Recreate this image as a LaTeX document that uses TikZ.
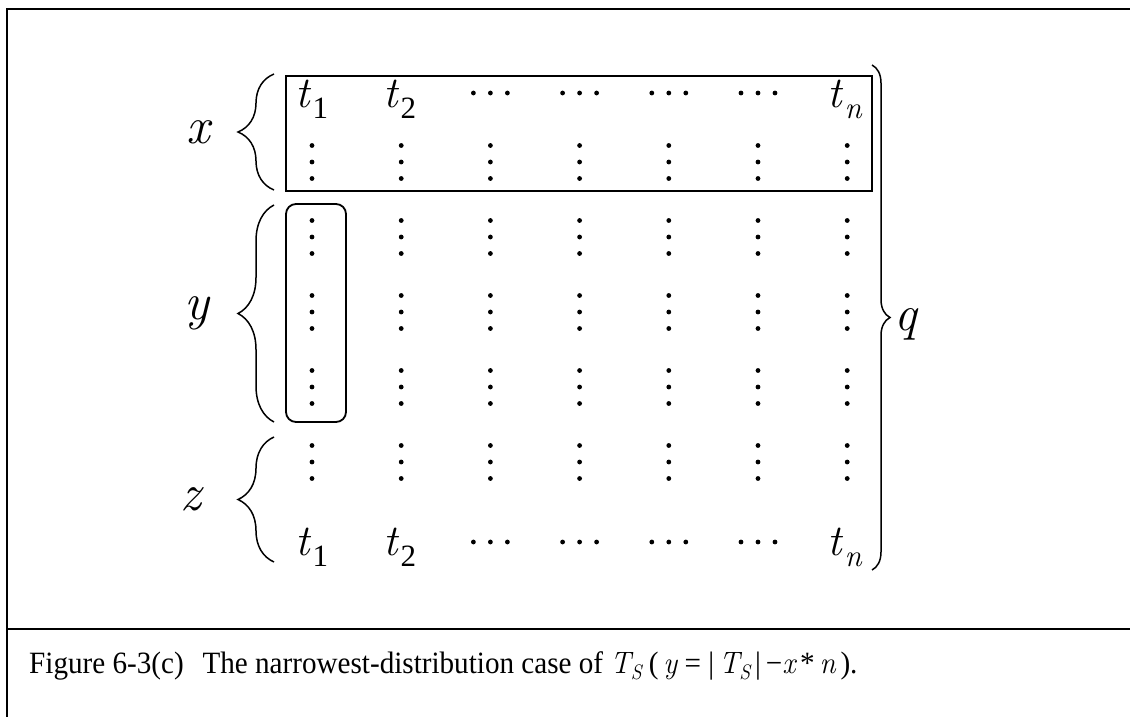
\documentclass[tikz,border=0pt]{standalone}
\usepackage{fontspec}
\setmainfont{Liberation Serif}
\newfontfamily\lmfam{Latin Modern Roman}
\usetikzlibrary{decorations.pathreplacing}
\newcommand{\iv}[1]{{\lmfam\itshape #1}}
\newcommand{\tsym}[1]{\iv{t}\kern3pt\raisebox{-11pt}{\fontsize{31}{31}\selectfont #1}}
\newcommand{\subS}{\raisebox{-6pt}{\fontsize{21}{21}\selectfont\iv{S}}}

\begin{document}
\begin{tikzpicture}[x=1pt,y=-1pt,
  lbl/.style={inner sep=0pt,font=\fontsize{52}{52}\selectfont\lmfam\itshape},
  tlbl/.style={inner sep=0pt,anchor=base west,font=\fontsize{44}{44}\selectfont},
  frame/.style={line width=2pt},
  grp/.style={line width=1.8pt},
  brc/.style={decorate,decoration={brace,amplitude=#1},line width=1.5pt}]
\useasboundingbox (0,0) rectangle (1130,717);
% frame and caption
\draw[frame] (1130,9) -- (7,9) -- (7,717);
\draw[frame] (7,629) -- (1130,629);
\node[anchor=base west,inner sep=0pt,font=\fontsize{31}{31}\selectfont] (cap) at (29,673)
  {\scalebox{0.94}[1]{Figure 6-3(c)\hspace{20pt}The narrowest-distribution case of \iv{T}\subS{} (\,\iv{y} = |\,\iv{T}\subS\,|\,−\iv{x}\,*\,\iv{n}\,).}};
% t rows
\node[tlbl] (ta1) at (295,107) {\tsym{1}};
\node[tlbl] (ta2) at (383,107) {\tsym{2}};
\node[tlbl] (tan) at (827,107) {\tsym{\iv{n}}};
\node[tlbl] (tb1) at (295,555) {\tsym{1}};
\node[tlbl] (tb2) at (383,555) {\tsym{2}};
\node[tlbl] (tbn) at (827,555) {\tsym{\iv{n}}};
% dots
\foreach \c in {0,...,6}
  \foreach \r in {162,237,312,387,462}
    \foreach \d in {-16.5,0,16.5}
      \fill (312+89.2*\c,\r+\d) circle (2.4pt);
\foreach \c in {2,...,5}
  \foreach \r in {93,542}
    \foreach \d in {-17,0,17}
      \fill (312+89.2*\c+\d,\r) circle (2.4pt);
% groups
\draw[grp] (286,76) rectangle (872,191);
\draw[grp,rounded corners=10pt] (286,204) rectangle (346,422);
% braces and labels
\draw[brc=36pt] (274,190) -- (274,74);
\draw[brc=36pt] (274,422) -- (274,205);
\draw[brc=36pt] (274,562) -- (274,437);
\draw[brc=18pt] (872,65) -- (872,570);
\node[lbl] (x) at (198,132) {x};
\node[lbl] (y) at (197,313) {y};
\node[lbl] (z) at (191,499) {z};
\node[lbl,font=\fontsize{50}{50}\selectfont\lmfam\itshape] (q) at (906,324) {q};
\end{tikzpicture}
\end{document}
